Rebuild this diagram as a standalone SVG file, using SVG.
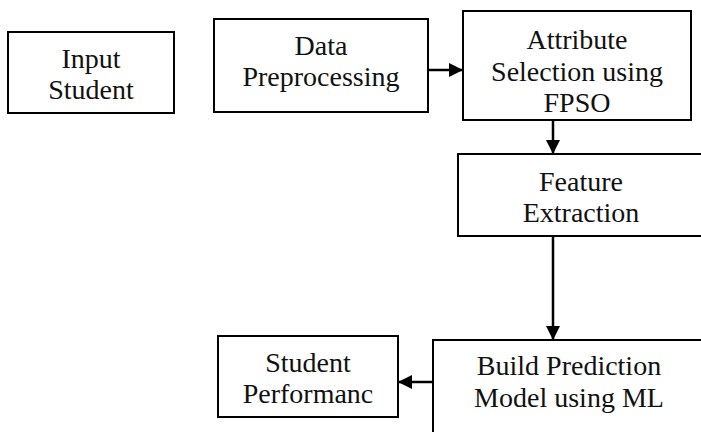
<svg xmlns="http://www.w3.org/2000/svg" width="701" height="432" viewBox="0 0 701 432">
<style>
.box{fill:#fff;stroke:#000;stroke-width:2}
.t{font-family:"Liberation Serif","DejaVu Serif",serif;font-size:28px;fill:#111;text-anchor:middle}
.c{stroke:#000;stroke-width:2.5;fill:none}
</style>
<defs>
<marker id="ah" markerWidth="14" markerHeight="14" refX="13" refY="7" orient="auto" markerUnits="userSpaceOnUse">
<path d="M0,0 L14,7 L0,14 Z" fill="#000"/>
</marker>
</defs>
<rect width="701" height="432" fill="#fff"/>
<g id="input">
<rect class="box" x="8" y="32" width="166" height="81"/>
<text class="t" x="91" y="68">Input</text>
<text class="t" x="91" y="99">Student</text>
</g>
<g id="preprocessing">
<rect class="box" x="214" y="19" width="214" height="93"/>
<text class="t" x="321" y="55">Data</text>
<text class="t" x="321" y="86">Preprocessing</text>
</g>
<g id="attribute">
<rect class="box" x="463" y="11" width="228" height="109"/>
<text class="t" x="577" y="49">Attribute</text>
<text class="t" x="577" y="81">Selection using</text>
<text class="t" x="577" y="112">FPSO</text>
</g>
<g id="feature">
<rect class="box" x="458" y="154" width="250" height="82"/>
<text class="t" x="581" y="191">Feature</text>
<text class="t" x="581" y="222">Extraction</text>
</g>
<g id="build">
<rect class="box" x="433" y="340" width="275" height="110"/>
<text class="t" x="569" y="375">Build Prediction</text>
<text class="t" x="569" y="407">Model using ML</text>
</g>
<g id="performance">
<rect class="box" x="218" y="336" width="180" height="81"/>
<text class="t" x="308" y="372">Student</text>
<text class="t" x="308" y="403">Performanc</text>
</g>
<g id="connectors">
<line class="c" x1="428" y1="70" x2="462" y2="70" marker-end="url(#ah)"/>
<line class="c" x1="553" y1="120" x2="553" y2="153" marker-end="url(#ah)"/>
<line class="c" x1="553" y1="236" x2="553" y2="339" marker-end="url(#ah)"/>
<line class="c" x1="433" y1="382" x2="399" y2="382" marker-end="url(#ah)"/>
</g>
</svg>
